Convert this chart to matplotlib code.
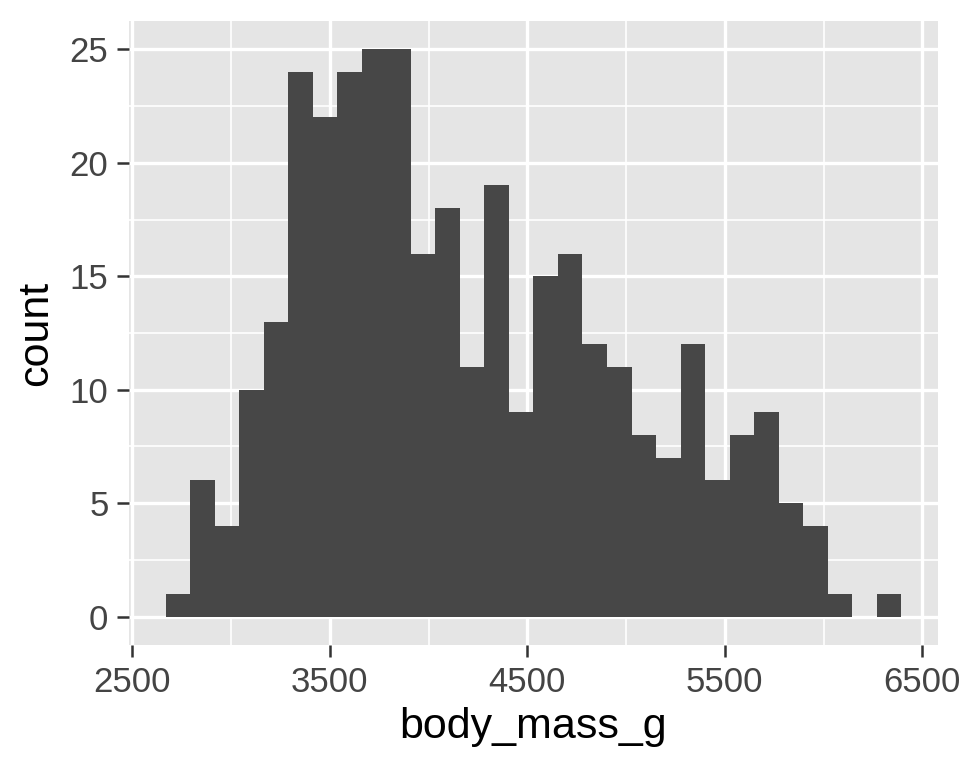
import numpy as np
import matplotlib
matplotlib.use('Agg')
import matplotlib.pyplot as plt
from matplotlib.ticker import MultipleLocator

plt.rcParams['font.family'] = ['Liberation Sans', 'DejaVu Sans']

# histogram of body mass, 30 bins (ggplot default)
bin_start = 2668.97
bin_width = 124.138
counts = [1, 6, 4, 10, 13, 24, 22, 24, 25, 25,
          16, 18, 11, 19, 9, 15, 16, 12, 11, 8,
          7, 12, 6, 8, 9, 5, 4, 1, 0, 1]
x_ticks = [2500, 3500, 4500, 5500, 6500]
y_ticks = [0, 5, 10, 15, 20, 25]

left_edges = bin_start + bin_width * np.arange(len(counts))

fig = plt.figure(figsize=(9.6, 7.68), dpi=100)
ax = fig.add_axes([0.1344, 0.1602, 0.977 - 0.1344, 0.9727 - 0.1602])
ax.set_facecolor('#E5E5E5')

ax.bar(left_edges, counts, width=bin_width, align='edge', color='#474747', linewidth=0, zorder=3)

lo = bin_start
hi = bin_start + bin_width * len(counts)
pad = (hi - lo) * 0.05
ax.set_xlim(lo - pad, hi + pad)
ax.set_ylim(-1.25, 26.25)

ax.set_xticks(x_ticks)
ax.set_yticks(y_ticks)
ax.xaxis.set_minor_locator(MultipleLocator(500))
ax.yaxis.set_minor_locator(MultipleLocator(2.5))

ax.grid(which='major', color='white', linewidth=2.4, zorder=1)
ax.grid(which='minor', color='white', linewidth=1.2, zorder=1)
ax.set_axisbelow(True)

for s in ax.spines.values():
    s.set_visible(False)

ax.tick_params(which='major', length=8.3, width=1.8, color='#333333',
               labelsize=25, labelcolor='#444444', pad=6.5)
ax.tick_params(which='minor', length=0)

ax.set_xlabel('body_mass_g', fontsize=31, color='black', labelpad=6)
ax.set_ylabel('count', fontsize=31, color='black', labelpad=10)

fig.savefig('out.png', dpi=100)
